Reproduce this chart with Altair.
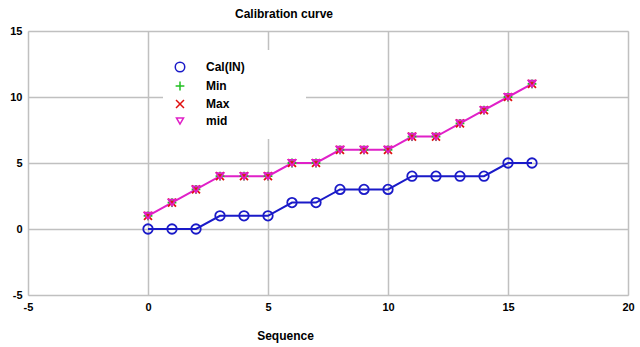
import altair as alt
import pandas as pd

seq = list(range(17))
cal_in = [0, 0, 0, 1, 1, 1, 2, 2, 3, 3, 3, 4, 4, 4, 4, 5, 5]
min_v = [1, 2, 3, 4, 4, 4, 5, 5, 6, 6, 6, 7, 7, 8, 9, 10, 11]
max_v = [1, 2, 3, 4, 4, 4, 5, 5, 6, 6, 6, 7, 7, 8, 9, 10, 11]
mid_v = [1, 2, 3, 4, 4, 4, 5, 5, 6, 6, 6, 7, 7, 8, 9, 10, 11]

series_names = ["Cal(IN)", "Min", "Max", "mid"]
series_colors = ["#1a1ac8", "#22c022", "#e01010", "#e020c8"]
series_shapes = ["circle", "M-1,0L1,0M0,-1L0,1", "M-1,-1L1,1M-1,1L1,-1", "triangle-down"]
series_sizes = [90, 50, 50, 70]

rows = []
for name, vals in zip(series_names, [cal_in, min_v, max_v, mid_v]):
    for s, v in zip(seq, vals):
        rows.append({"Sequence": s, "value": v, "series": name})
df = pd.DataFrame(rows)

FONT = "Liberation Sans"

x_enc = alt.X("Sequence:Q",
              scale=alt.Scale(domain=[-5, 20], nice=False, zero=False),
              axis=alt.Axis(values=[-5, 0, 5, 10, 15, 20], title="Sequence",
                            titleX=257, titleY=40, titleBaseline="middle",
                            titleFont=FONT, titleFontSize=12, titleFontWeight="bold",
                            titleColor="#000000",
                            labelFont=FONT, labelFontSize=11, labelFontWeight="bold",
                            labelColor="#000000", labelPadding=6,
                            labelExpr="datum.value + ''",
                            ticks=False, domain=False,
                            gridColor="#c0c0c0", gridWidth=1.5,
                            labelFlush=False))
y_enc = alt.Y("value:Q",
              scale=alt.Scale(domain=[-5, 15], nice=False, zero=False),
              axis=alt.Axis(values=[-5, 0, 5, 10, 15], title=None,
                            labelFont=FONT, labelFontSize=11, labelFontWeight="bold",
                            labelColor="#000000", labelPadding=6,
                            labelExpr="datum.value + ''",
                            ticks=False, domain=False,
                            gridColor="#c0c0c0", gridWidth=1.5,
                            labelFlush=False))

line_cal = alt.Chart(df).transform_filter(alt.datum.series == "Cal(IN)").mark_line(
    color="#1a1ac8", strokeWidth=2).encode(x=x_enc, y=y_enc)
line_mid = alt.Chart(df).transform_filter(alt.datum.series == "mid").mark_line(
    color="#e020c8", strokeWidth=2).encode(x=x_enc, y=y_enc)

points = alt.Chart(df).mark_point(filled=False, strokeWidth=1.8, opacity=1).encode(
    x=x_enc, y=y_enc,
    color=alt.Color("series:N",
                    scale=alt.Scale(domain=series_names, range=series_colors),
                    legend=alt.Legend(title="\u00a0", titleOrient="right", titlePadding=50,
                                      titleFontSize=4,
                                      orient="none", legendX=135, legendY=19,
                                      fillColor="#ffffff", padding=11, rowPadding=3,
                                      labelOffset=20, labelFont=FONT, labelFontSize=12,
                                      labelFontWeight="bold", labelColor="#000000",
                                      symbolStrokeWidth=1.5)),
    shape=alt.Shape("series:N",
                    scale=alt.Scale(domain=series_names, range=series_shapes)),
    size=alt.Size("series:N",
                  scale=alt.Scale(domain=series_names, range=series_sizes)),
    order=alt.Order("series_order:Q"),
).transform_calculate(
    series_order="indexof(['Cal(IN)','Min','Max','mid'], datum.series)"
)

chart = alt.layer(line_cal, line_mid, points).properties(
    width=600, height=264,
    title=alt.TitleParams("Calibration curve", anchor="middle", frame="group",
                          dx=-44, offset=4, font=FONT, fontSize=12,
                          fontWeight="bold", color="#000000"),
    autosize=alt.AutoSizeParams(type="none"),
    padding={"left": 28, "top": 31, "right": 12, "bottom": 52},
).configure_view(stroke="#808080", strokeWidth=2).configure(background="#ffffff")

chart.save("out.html", embed_options={"renderer": "svg", "actions": False})
